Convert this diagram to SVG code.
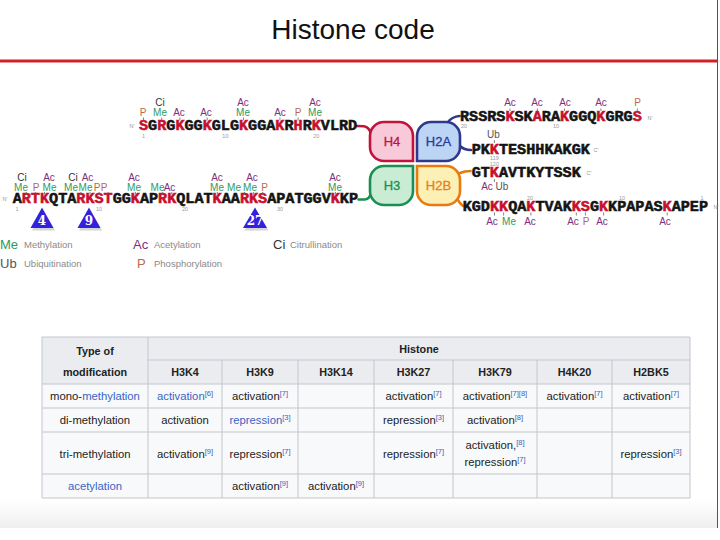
<svg xmlns="http://www.w3.org/2000/svg" width="720" height="540" viewBox="0 0 720 540">
<defs>
<linearGradient id="bot" x1="0" y1="0" x2="0" y2="1">
<stop offset="0" stop-color="#ffffff"/>
<stop offset="1" stop-color="#efefef"/>
</linearGradient>
<style>
.seq{font-family:"Liberation Mono","Courier New",monospace;font-weight:bold;font-size:15.15px;fill:#141414;stroke:#141414;stroke-width:0.55}
.r{fill:#c8102e;stroke:#c8102e}
.lb{font-family:"Liberation Sans",Arial,sans-serif;font-size:10px;text-anchor:middle}
.me{fill:#2e9a5e}.ac{fill:#7e2f7e}.p{fill:#b86a4c}.ci{fill:#333}.ub{fill:#555}
.num{font-family:"Liberation Sans",Arial,sans-serif;font-size:5.5px;fill:#9a9a9a;text-anchor:middle}
.tick{stroke:#666;stroke-width:0.8;fill:none}
.leg{font-family:"Liberation Sans",Arial,sans-serif;font-size:9.5px;fill:#8a8a8a}
.legk{font-family:"Liberation Sans",Arial,sans-serif;font-size:13px}
.hs{stroke-width:2.6}
.hl{font-family:"Liberation Sans",Arial,sans-serif;font-size:13px;text-anchor:middle;stroke-width:0.3}
.tri{fill:#3322dd}
.trs{fill:#888;opacity:0.35}
.tn{font-family:"DejaVu Serif",serif;font-weight:bold;font-size:12px;fill:#fff;text-anchor:middle}
.tb{font-family:"Liberation Sans",Arial,sans-serif;font-size:11.3px;fill:#222;text-anchor:middle}
.th{font-weight:bold;font-size:10.8px}
.lnk{fill:#3b63c4}
.sup{font-size:7.5px;fill:#3b63c4}
.grid{stroke:#c2c6cc;stroke-width:1;fill:none}
.tail{fill:none;stroke-width:2.6;stroke-linecap:round}
</style>
</defs>
<rect width="720" height="540" fill="#fff"/>
<rect x="0" y="500" width="717" height="28" fill="url(#bot)"/>
<line x1="717.5" y1="0" x2="717.5" y2="528" stroke="#555" stroke-width="1"/>
<text x="353" y="39" font-family="Liberation Sans, Arial, sans-serif" font-size="28" text-anchor="middle" fill="#111">Histone code</text>
<line x1="0" y1="61" x2="717" y2="61" stroke="#d0202a" stroke-width="3"/>

<!-- connectors (histone tails) -->
<g id="connectors">
<path class="tail" stroke="#c0143c" d="M357,126 L364,126.3 Q369.5,127.5 371,134"/>
<path class="tail" stroke="#1a9050" d="M358.5,199.5 L365,199.5 Q369.5,199 371,193"/>
<path class="tail" stroke="#2d3a8c" d="M447,123 Q452,116.5 459.5,116"/>
<path class="tail" stroke="#2d3a8c" d="M460,146 Q464,150 471,150"/>
<path class="tail" stroke="#e87a10" d="M460,173 Q465,171 470.5,171"/>
<path class="tail" stroke="#e87a10" d="M456,196 Q459,203 463,206"/>
</g>

<!-- histone core nodes -->
<g id="H4">
<path class="hs" fill="#f8c9d9" stroke="#c0143c" d="M413,161 H384 A14,14 0 0 1 370,147 V136 A14,14 0 0 1 384,122 H399 A14,14 0 0 1 413,136 Z"/>
<text class="hl" x="392" y="145.5" fill="#c0143c" stroke="#c0143c">H4</text>
</g>
<g id="H2A">
<path class="hs" fill="#bcd5f5" stroke="#2d3a8c" d="M417,161 V136 A14,14 0 0 1 431,122 H446 A14,14 0 0 1 460,136 V147 A14,14 0 0 1 446,161 Z"/>
<text class="hl" x="438.5" y="145.5" fill="#2a3a9a" stroke="#2a3a9a">H2A</text>
</g>
<g id="H3">
<path class="hs" fill="#c9ecd5" stroke="#1a9050" d="M413,166 V191 A14,14 0 0 1 399,205 H384 A14,14 0 0 1 370,191 V180 A14,14 0 0 1 384,166 Z"/>
<text class="hl" x="392" y="189.5" fill="#1a9050" stroke="#1a9050">H3</text>
</g>
<g id="H2B">
<path class="hs" fill="#fdf0b4" stroke="#e87a10" d="M417,166 H446 A14,14 0 0 1 460,180 V191 A14,14 0 0 1 446,205 H431 A14,14 0 0 1 417,191 Z"/>
<text class="hl" x="438.5" y="189.5" fill="#e8801a" stroke="#e8801a">H2B</text>
</g>

<!-- H4 tail sequence -->
<g id="H4-tail">
<text class="seq" x="139" y="130"><tspan class="r">S</tspan>G<tspan class="r">R</tspan>G<tspan class="r">K</tspan>GG<tspan class="r">K</tspan>GLG<tspan class="r">K</tspan>GGA<tspan class="r">K</tspan>R<tspan class="r">H</tspan>R<tspan class="r">K</tspan>VLRD</text>
<path class="tick" d="M143.5,117.5V120.5M161.7,117.5V120.5M179.9,117.5V120.5M207.2,117.5V120.5M243.5,117.5V120.5M279.9,117.5V120.5M298.1,117.5V120.5M316.2,117.5V120.5"/>
<text class="lb p" x="143" y="116">P</text>
<text class="lb ci" x="160" y="106">Ci</text>
<text class="lb me" x="160" y="116">Me</text>
<text class="lb ac" x="179" y="116">Ac</text>
<text class="lb ac" x="206" y="116">Ac</text>
<text class="lb ac" x="243" y="106">Ac</text>
<text class="lb me" x="243" y="116">Me</text>
<text class="lb ac" x="280" y="116">Ac</text>
<text class="lb p" x="298" y="116">P</text>
<text class="lb ac" x="315" y="106">Ac</text>
<text class="lb me" x="315" y="116">Me</text>
<text class="num" x="132" y="128">N'</text>
<text class="num" x="143.5" y="137.5">1</text>
<text class="num" x="225.4" y="137.5">10</text>
<text class="num" x="316.2" y="137.5">20</text>
</g>

<!-- H3 tail sequence -->
<g id="H3-tail">
<text class="seq" x="12.7" y="203">A<tspan class="r">RTK</tspan>QTA<tspan class="r">RKST</tspan>GG<tspan class="r">K</tspan>AP<tspan class="r">RK</tspan>QLAT<tspan class="r">K</tspan>AA<tspan class="r">RKS</tspan>APATGGV<tspan class="r">K</tspan>KP</text>
<path class="tick" d="M26.3,192V194.5M35.4,192V194.5M44.5,192V194.5M80.9,192V194.5M90,192V194.5M99.1,192V194.5M108.2,192V194.5M135.4,192V194.5M162.7,192V194.5M171.8,192V194.5M217.3,192V194.5M244.5,192V194.5M253.6,192V194.5M262.7,192V194.5M335.4,192V194.5"/>
<text class="lb ci" x="22" y="181">Ci</text>
<text class="lb me" x="21" y="191">Me</text>
<text class="lb p" x="36" y="191">P</text>
<text class="lb ac" x="49" y="181">Ac</text>
<text class="lb me" x="49.5" y="191">Me</text>
<text class="lb ci" x="73" y="181">Ci</text>
<text class="lb me" x="71" y="191">Me</text>
<text class="lb ac" x="87.5" y="181">Ac</text>
<text class="lb me" x="85.5" y="191">Me</text>
<text class="lb p" x="97" y="191">P</text>
<text class="lb p" x="104" y="191">P</text>
<text class="lb ac" x="134" y="181">Ac</text>
<text class="lb me" x="134" y="191">Me</text>
<text class="lb me" x="157.5" y="191">Me</text>
<text class="lb ac" x="169.5" y="191">Ac</text>
<text class="lb ac" x="217" y="181">Ac</text>
<text class="lb me" x="217" y="191">Me</text>
<text class="lb me" x="234" y="191">Me</text>
<text class="lb ac" x="252" y="181">Ac</text>
<text class="lb me" x="250" y="191">Me</text>
<text class="lb p" x="264.5" y="191">P</text>
<text class="lb ac" x="335" y="181">Ac</text>
<text class="lb me" x="335" y="191">Me</text>
<text class="num" x="5" y="201">N'</text>
<text class="num" x="17" y="210.5">1</text>
<text class="num" x="99" y="210.5">10</text>
<text class="num" x="185" y="210.5">20</text>
<text class="num" x="280" y="210.5">30</text>
</g>

<!-- highlighted residues -->
<g id="marker-4">
<polygon class="trs" points="43.5,210 32,230.5 55,230.5"/>
<polygon class="tri" points="42,207.5 30.5,228 53.5,228"/>
<text class="tn" x="42" y="225">4</text>
</g>
<g id="marker-9">
<polygon class="trs" points="90.5,210 79,230.5 102,230.5"/>
<polygon class="tri" points="89,207.5 77.5,228 100.5,228"/>
<text class="tn" x="89" y="225">9</text>
</g>
<g id="marker-27">
<polygon class="trs" points="256.5,210 244.5,230.5 268.5,230.5"/>
<polygon class="tri" points="255,207.5 243,228 267,228"/>
<text class="tn" x="255" y="225" font-family="Liberation Sans, Arial, sans-serif" font-weight="normal">27</text>
</g>

<!-- H2A tails -->
<g id="H2A-tail-N">
<text class="seq" x="460" y="121">RSSRS<tspan class="r">K</tspan>SK<tspan class="r">A</tspan>RA<tspan class="r">K</tspan>GGQ<tspan class="r">K</tspan>GRG<tspan class="r">S</tspan></text>
<path class="tick" d="M510,108.5V111M537.3,108.5V111M564.5,108.5V111M600.9,108.5V111M637.3,108.5V111"/>
<text class="lb ac" x="510" y="106">Ac</text>
<text class="lb ac" x="537" y="106">Ac</text>
<text class="lb ac" x="565" y="106">Ac</text>
<text class="lb ac" x="601" y="106">Ac</text>
<text class="lb p" x="637.5" y="106">P</text>
<text class="num" x="464" y="127.5">20</text>
<text class="num" x="556" y="127.5">10</text>
<text class="num" x="650" y="120">N'</text>
</g>
<g id="H2A-tail-C">
<text class="seq" x="471.7" y="154">PK<tspan class="r">K</tspan>TESHHKAKGK</text>
<path class="tick" d="M494.4,140V143"/>
<text class="lb ub" x="493.5" y="138">Ub</text>
<text class="num" x="494.4" y="159.5">119</text>
<text class="num" x="596" y="152">C'</text>
</g>

<!-- H2B tails -->
<g id="H2B-tail-C">
<text class="seq" x="471.7" y="177">GT<tspan class="r">K</tspan>AVTKYTSSK</text>
<path class="tick" d="M494.4,179V182"/>
<text class="num" x="494.4" y="165.5">120</text>
<text class="lb ac" x="487" y="190">Ac</text>
<text class="lb ub" x="502" y="190">Ub</text>
<text class="num" x="589" y="175">C'</text>
</g>
<g id="H2B-tail-N">
<text class="seq" x="462.7" y="210.5">KGD<tspan class="r">KK</tspan>QA<tspan class="r">K</tspan>TVAK<tspan class="r">KS</tspan>G<tspan class="r">K</tspan>KPAPAS<tspan class="r">K</tspan>APEP</text>
<path class="tick" d="M494.5,212.5V215.5M503.6,212.5V215.5M530.9,212.5V215.5M576.3,212.5V215.5M585.4,212.5V215.5M603.6,212.5V215.5M667.2,212.5V215.5"/>
<text class="lb ac" x="492" y="225">Ac</text>
<text class="lb me" x="509" y="225">Me</text>
<text class="lb ac" x="530" y="225">Ac</text>
<text class="lb ac" x="573" y="225">Ac</text>
<text class="lb p" x="586" y="225">P</text>
<text class="lb ac" x="602" y="225">Ac</text>
<text class="lb ac" x="665" y="225">Ac</text>
<text class="num" x="530" y="199.5">20</text>
<text class="num" x="622" y="199.5">10</text>
<text class="num" x="702" y="199.5">1</text>
<text class="num" x="716" y="209">N'</text>
</g>

<!-- legend -->
<g id="legend">
<text class="legk me" x="0" y="249">Me</text>
<text class="leg" x="24" y="248">Methylation</text>
<text class="legk ub" x="0" y="268">Ub</text>
<text class="leg" x="24" y="267">Ubiquitination</text>
<text class="legk ac" x="133" y="249">Ac</text>
<text class="leg" x="154" y="248">Acetylation</text>
<text class="legk p" x="137" y="268">P</text>
<text class="leg" x="154" y="267">Phosphorylation</text>
<text class="legk ci" x="273" y="249">Ci</text>
<text class="leg" x="290" y="248">Citrullination</text>
</g>

<!-- table -->
<g id="table">
<rect x="42" y="337" width="648" height="161" fill="#f8f9fa"/>
<rect x="42" y="337" width="106" height="47" fill="#eaecf0"/>
<rect x="148" y="337" width="542" height="47" fill="#eaecf0"/>
<path class="grid" d="M42,337H690V498H42Z M148,360H690 M42,384H690 M42,408H690 M42,432H690 M42,474H690 M148,337V498 M222,360V498 M298,360V498 M374,360V498 M453,360V498 M537,360V498 M612,360V498"/>
<text class="tb th" x="95" y="355">Type of</text>
<text class="tb th" x="95" y="376">modification</text>
<text class="tb th" x="419" y="352.5">Histone</text>
<text class="tb th" x="185" y="376">H3K4</text>
<text class="tb th" x="260" y="376">H3K9</text>
<text class="tb th" x="336" y="376">H3K14</text>
<text class="tb th" x="413.5" y="376">H3K27</text>
<text class="tb th" x="495" y="376">H3K79</text>
<text class="tb th" x="574.5" y="376">H4K20</text>
<text class="tb th" x="651" y="376">H2BK5</text>

<text class="tb" x="95" y="400">mono-<tspan class="lnk">methylation</tspan></text>
<text class="tb lnk" x="185" y="400">activation<tspan class="sup" dy="-4">[6]</tspan></text>
<text class="tb" x="260" y="400">activation<tspan class="sup" dy="-4">[7]</tspan></text>
<text class="tb" x="413.5" y="400">activation<tspan class="sup" dy="-4">[7]</tspan></text>
<text class="tb" x="495" y="400">activation<tspan class="sup" dy="-4">[7][8]</tspan></text>
<text class="tb" x="574.5" y="400">activation<tspan class="sup" dy="-4">[7]</tspan></text>
<text class="tb" x="651" y="400">activation<tspan class="sup" dy="-4">[7]</tspan></text>

<text class="tb" x="95" y="424">di-methylation</text>
<text class="tb" x="185" y="424">activation</text>
<text class="tb" x="260" y="424"><tspan class="lnk">repression</tspan><tspan class="sup" dy="-4">[3]</tspan></text>
<text class="tb" x="413.5" y="424">repression<tspan class="sup" dy="-4">[3]</tspan></text>
<text class="tb" x="495" y="424">activation<tspan class="sup" dy="-4">[8]</tspan></text>

<text class="tb" x="95" y="457.5">tri-methylation</text>
<text class="tb" x="185" y="457.5">activation<tspan class="sup" dy="-4">[9]</tspan></text>
<text class="tb" x="260" y="457.5">repression<tspan class="sup" dy="-4">[7]</tspan></text>
<text class="tb" x="413.5" y="457.5">repression<tspan class="sup" dy="-4">[7]</tspan></text>
<text class="tb" x="495" y="448.5">activation,<tspan class="sup" dy="-4">[8]</tspan></text>
<text class="tb" x="495" y="466">repression<tspan class="sup" dy="-4">[7]</tspan></text>
<text class="tb" x="651" y="457.5">repression<tspan class="sup" dy="-4">[3]</tspan></text>

<text class="tb lnk" x="95" y="490">acetylation</text>
<text class="tb" x="260" y="490">activation<tspan class="sup" dy="-4">[9]</tspan></text>
<text class="tb" x="336" y="490">activation<tspan class="sup" dy="-4">[9]</tspan></text>
</g>
</svg>
